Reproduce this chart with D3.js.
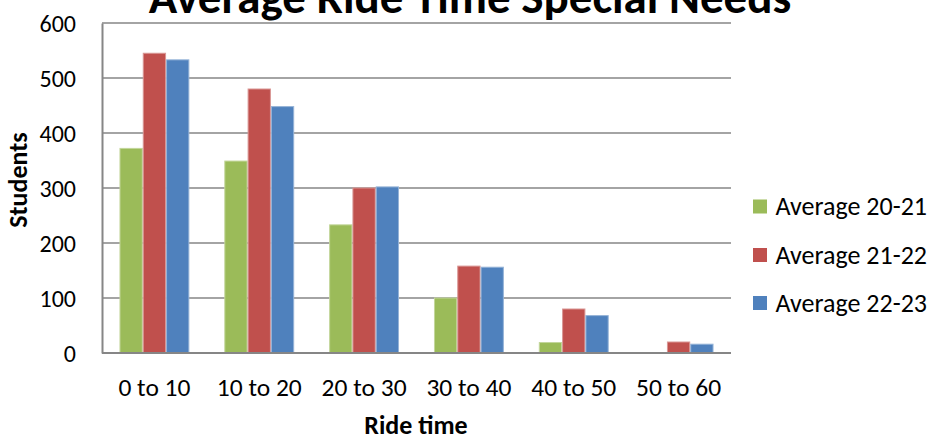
<!DOCTYPE html>
<html>
<head>
<meta charset="utf-8">
<script src="https://cdn.jsdelivr.net/npm/d3@7/dist/d3.min.js"></script>
<style>
  html, body { margin: 0; padding: 0; background: #fff; }
  svg { display: block; font-family: Carlito, Lato, "Open Sans", sans-serif; }
</style>
</head>
<body>
<svg id="chart" width="932" height="439"></svg>
<script>
const categories = ["0 to 10", "10 to 20", "20 to 30", "30 to 40", "40 to 50", "50 to 60"];
const seriesNames = ["Average 20-21", "Average 21-22", "Average 22-23"];
const avg2021 = [372, 349, 233, 100, 19, 0];
const avg2122 = [545, 480, 300, 158, 80, 20];
const avg2223 = [533, 448, 302, 156, 68, 16];
const yTicks = [0, 100, 200, 300, 400, 500, 600];
const colors = ["#9BBB59", "#C0504D", "#4F81BD"];
const strokes = ["#c3d69b", "#d99694", "#95b3d7"];
const titleText = "Average Ride Time Special Needs";
const xTitle = "Ride time";
const yTitle = "Students";

const series = [avg2021, avg2122, avg2223];
const data = categories.map((c, i) => ({ cat: c, vals: series.map(s => s[i]) }));

const svg = d3.select("#chart");
const plot = { left: 102, right: 731, top: 23, bottom: 353 };

const x0 = d3.scaleBand().domain(categories).range([plot.left, plot.right])
  .paddingInner(1.5 / 4.5).paddingOuter(0.75 / 4.5);
const x1 = d3.scaleBand().domain(d3.range(series.length)).range([0, x0.bandwidth()]);
const y = d3.scaleLinear().domain([0, 600]).range([plot.bottom, plot.top]);

// gridlines
svg.append("g").selectAll("line").data(yTicks.filter(t => t > 0)).join("line")
  .attr("x1", plot.left).attr("x2", plot.right)
  .attr("y1", d => y(d)).attr("y2", d => y(d))
  .attr("stroke", "#868686").attr("stroke-width", 1.4);

// bars
const groups = svg.append("g").selectAll("g").data(data).join("g")
  .attr("transform", d => `translate(${x0(d.cat)},0)`);
groups.selectAll("rect").data(d => d.vals.map((v, i) => ({ v, i }))).join("rect")
  .attr("x", d => x1(d.i) + 0.5)
  .attr("width", x1.bandwidth() - 1)
  .attr("y", d => y(d.v))
  .attr("height", d => y(0) - y(d.v))
  .attr("fill", d => colors[d.i])
  .attr("stroke", d => d.v > 0 ? strokes[d.i] : "none")
  .attr("stroke-width", 1);

// y axis
const yAxis = d3.axisLeft(y).tickValues(yTicks).tickSize(0).tickPadding(26);
const gy = svg.append("g").attr("transform", `translate(${plot.left},0)`).call(yAxis);
gy.select(".domain").attr("stroke", "#868686").attr("stroke-width", 2);
gy.selectAll("text").attr("font-size", 24).attr("fill", "#000")
  .attr("font-family", "Carlito, Lato, sans-serif").attr("dy", "0.34em");

// x axis
const xAxis = d3.axisBottom(x0).tickSize(0);
const gx = svg.append("g").attr("transform", `translate(0,${plot.bottom})`).call(xAxis);
gx.select(".domain").attr("stroke", "#868686").attr("stroke-width", 2)
  .attr("d", `M${plot.left},0H${plot.right}`);
gx.selectAll("text").attr("font-size", 25.5).attr("fill", "#000")
  .attr("font-family", "Carlito, Lato, sans-serif").attr("y", 43).attr("dy", 0);

// title
svg.append("text").attr("x", 470).attr("y", 13).attr("text-anchor", "middle")
  .attr("font-size", 47).attr("font-weight", "bold").text(titleText);

// axis titles
svg.append("text").attr("x", 416).attr("y", 434).attr("text-anchor", "middle")
  .attr("font-size", 26).attr("font-weight", "bold").text(xTitle);
svg.append("text").attr("transform", "translate(27,180) rotate(-90)")
  .attr("text-anchor", "middle")
  .attr("font-size", 26).attr("font-weight", "bold").text(yTitle);

// legend
const legendY = [206.5, 255, 303];
const lg = svg.append("g").selectAll("g").data(seriesNames).join("g")
  .attr("transform", (d, i) => `translate(753,${legendY[i]})`);
lg.append("rect").attr("x", 0).attr("y", -7).attr("width", 14).attr("height", 14)
  .attr("fill", (d, i) => colors[i]);
lg.append("text").attr("x", 22.5).attr("y", 0).attr("dy", "0.34em")
  .attr("font-size", 26).attr("fill", "#000").text(d => d);
</script>
</body>
</html>
